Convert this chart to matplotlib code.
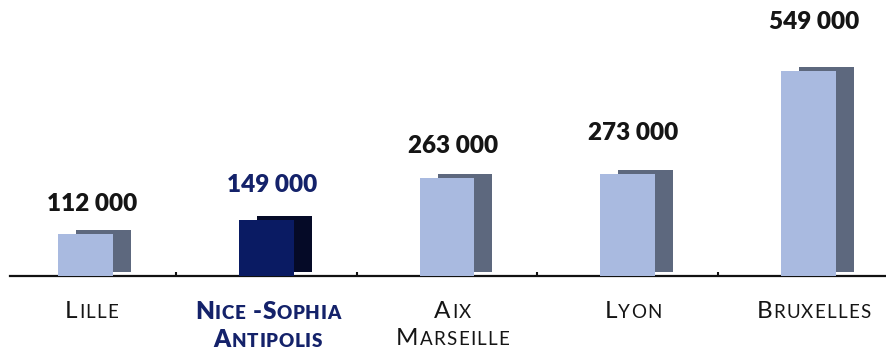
import matplotlib
matplotlib.use("Agg")
import matplotlib.pyplot as plt
from matplotlib.transforms import ScaledTranslation
from matplotlib.offsetbox import TextArea, HPacker, VPacker, AnnotationBbox

# Passengers per airport
cities = ["Lille", "Nice -Sophia\nAntipolis", "Aix\nMarseille", "Lyon", "Bruxelles"]
values = [112000, 149000, 263000, 273000, 549000]
value_labels = ["112 000", "149 000", "263 000", "273 000", "549 000"]
highlight = [False, True, False, False, False]

# Gap between bar top and the value label (pixels)
label_gap = [30, 35, 32, 41, 49]

W, H, DPI = 887, 353, 100
FONT = "Lato"

front_plain, shadow_plain = "#A9BAE0", "#5D687E"
front_hi, shadow_hi = "#0A1B63", "#050A27"
text_plain, text_hi = "#151515", "#14226A"

fig = plt.figure(figsize=(W / DPI, H / DPI), dpi=DPI)
axis_y_px = 276
ax = fig.add_axes([10 / W, (H - axis_y_px) / H, 877 / W, axis_y_px / H])

px_per_cat = 180.5
first_center_px = 86
x0 = (10 - first_center_px) / px_per_cat
x1 = (887 - first_center_px) / px_per_cat
ax.set_xlim(x0, x1)
px_per_unit = 205 / 549000
ax.set_ylim(0, axis_y_px / px_per_unit)

bar_w = 55 / px_per_cat
xs = list(range(len(cities)))
fronts = [front_hi if h else front_plain for h in highlight]
shadows = [shadow_hi if h else shadow_plain for h in highlight]

# Back face: same bars shifted right and up
shift = ax.transData + ScaledTranslation(18 / DPI, 4 / DPI, fig.dpi_scale_trans)
ax.bar(xs, values, width=bar_w, color=shadows, transform=shift, zorder=2,
       linewidth=0)
ax.bar(xs, values, width=bar_w, color=fronts, zorder=3, linewidth=0)

for x, v, lab, g, h in zip(xs, values, value_labels, label_gap, highlight):
    ax.annotate(lab, (x, v), xytext=(6 * 0.72, g * 0.72), textcoords="offset points",
                ha="center", va="center", fontsize=17.5, fontweight="heavy",
                family=FONT, color=text_hi if h else text_plain)

ax.spines[["top", "right", "left"]].set_visible(False)
ax.spines["bottom"].set_linewidth(1.6)
ax.spines["bottom"].set_color("#111111")
ax.spines["bottom"].set_zorder(1)
ax.set_yticks([])
ax.set_xticks([i + 0.5 for i in range(len(cities) - 1)])
ax.set_xticklabels([])
ax.tick_params(axis="x", direction="in", length=3, width=1.5, color="#111111")


def smallcaps_line(line, big, small, color, weight, tracking):
    # one text piece per glyph so the letters can be spaced out
    parts = []
    for ch in line:
        size = big if (ch.isupper() or not ch.isalpha()) else small
        parts.append(TextArea(ch.upper(),
                              textprops=dict(fontsize=size, family=FONT,
                                             color=color, fontweight=weight)))
    return HPacker(children=parts, pad=0, sep=tracking, align="baseline")


for x, name, h in zip(xs, cities, highlight):
    color = text_hi if h else text_plain
    weight = "heavy" if h else "normal"
    track = 0.5 if h else 0.9
    dx = 1 if h else 4
    lines = [smallcaps_line(l, 17.5, 13.5, color, weight, track)
             for l in name.split("\n")]
    box = VPacker(children=lines, pad=0, sep=4.5, align="center")
    ab = AnnotationBbox(box, (x, 0), xybox=(dx, -18), boxcoords="offset points",
                        xycoords="data", box_alignment=(0.5, 1), frameon=False,
                        annotation_clip=False)
    ax.add_artist(ab)

fig.savefig("out.png", dpi=DPI)
